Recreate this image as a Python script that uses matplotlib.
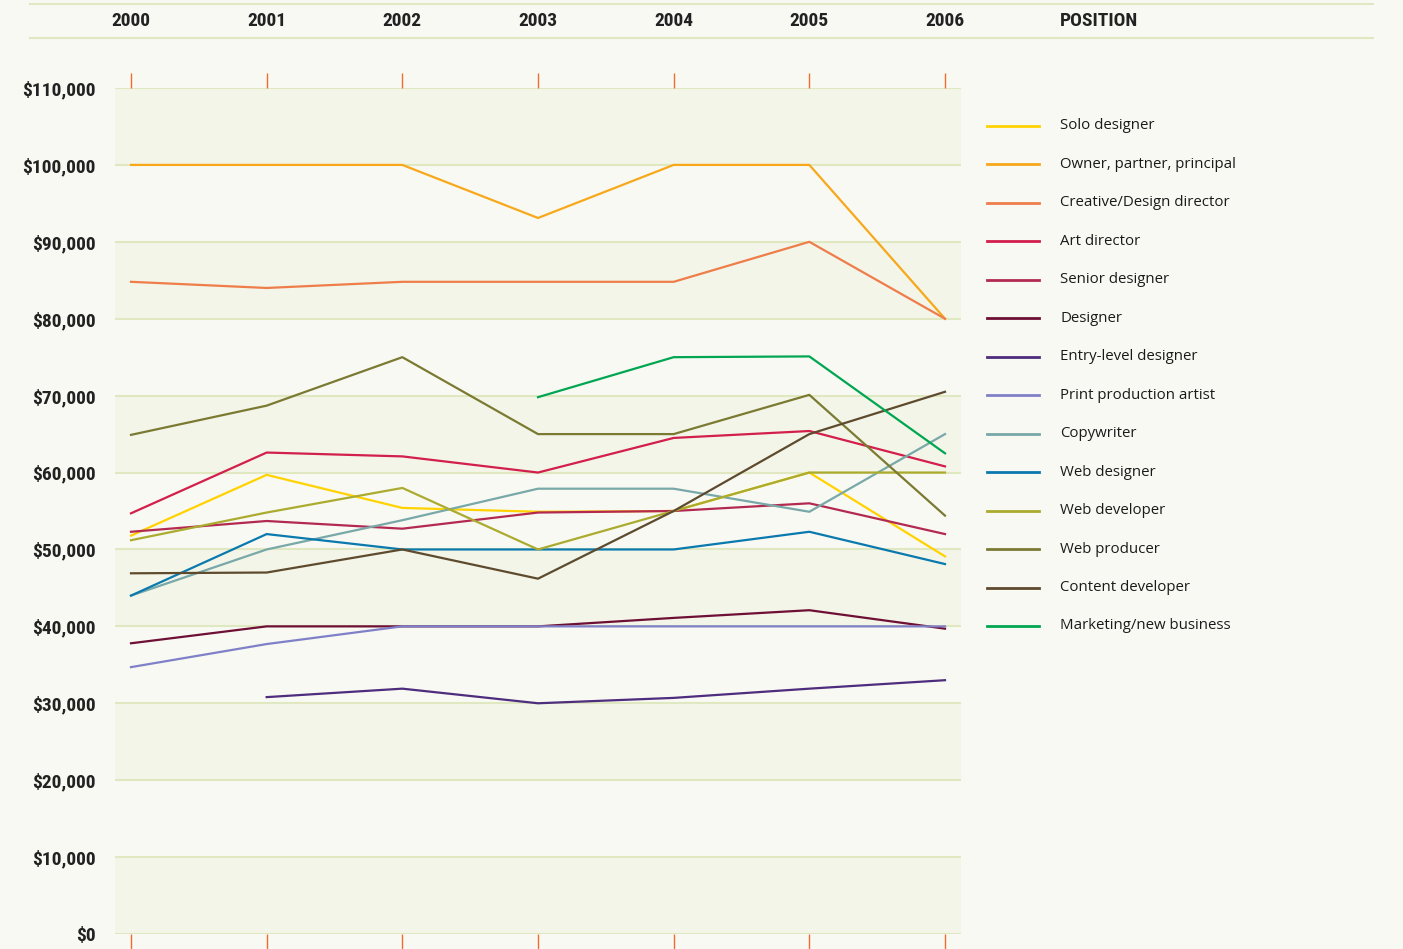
import matplotlib.pyplot as plt
import numpy as np
from matplotlib import font_manager
from matplotlib.lines import Line2D
from matplotlib import transforms

# data
years = [2000, 2001, 2002, 2003, 2004, 2005, 2006]
nan = np.nan
solo_designer = [51800, 59700, 55400, 54900, 55000, 60000, 49100]
owner_partner = [100000, 100000, 100000, 93100, 100000, 100000, 80000]
creative_director = [84800, 84000, 84800, 84800, 84800, 90000, 80000]
art_director = [54700, 62600, 62100, 60000, 64500, 65400, 60800]
senior_designer = [52300, 53700, 52700, 54800, 55000, 56000, 52000]
designer = [37800, 40000, 40000, 40000, 41100, 42100, 39700]
entry_level = [nan, 30800, 31900, 30000, 30700, 31900, 33000]
print_production = [34700, 37700, 40000, 40000, 40000, 40000, 40000]
copywriter = [44000, 50000, 53800, 57900, 57900, 54900, 65000]
web_designer = [44000, 52000, 50000, 50000, 50000, 52300, 48100]
web_developer = [51200, 54800, 58000, 50000, 55000, 60000, 60000]
web_producer = [64900, 68700, 75000, 65000, 65000, 70100, 54400]
content_developer = [46900, 47000, 50000, 46200, 55000, 65000, 70500]
marketing = [nan, nan, nan, 69800, 75000, 75100, 62500]

positions = ['Solo designer', 'Owner, partner, principal', 'Creative/Design director',
             'Art director', 'Senior designer', 'Designer', 'Entry-level designer',
             'Print production artist', 'Copywriter', 'Web designer', 'Web developer',
             'Web producer', 'Content developer', 'Marketing/new business']
series = [solo_designer, owner_partner, creative_director, art_director, senior_designer,
          designer, entry_level, print_production, copywriter, web_designer, web_developer,
          web_producer, content_developer, marketing]
colors = ['#FFD200', '#F7A81B', '#EE7D4A', '#D21F4B', '#B32A50', '#6E0F35', '#4E2C7E',
          '#8080C8', '#78A8A8', '#0A7AAE', '#ABAB2F', '#7B7A32', '#5E4B2E', '#00A651']

y_ticks = list(range(0, 110001, 10000))
y_labels = ['\\${:,}'.format(v) for v in y_ticks]

# fonts
installed = set(f.name for f in font_manager.fontManager.ttflist)
cond = 'DejaVu Sans'
for name in ['Liberation Sans Narrow', 'Roboto Condensed', 'Liberation Sans']:
    if name in installed:
        cond = name
        break
head_font = dict(family=cond, weight='bold', size=14, color='#222222')
leg_font = 'Open Sans' if 'Open Sans' in installed else 'DejaVu Sans'

bg = '#F9F9F3'
band = '#F3F5E8'
gridc = '#E0E8C2'

fig = plt.figure(figsize=(14.03, 9.49), dpi=100, facecolor=bg)
W, H = 1403, 949
ax = fig.add_axes([115 / W, 1 - 934 / H, 846 / W, 846 / H], facecolor=bg)

# alternating bands and grid lines
for lo in range(0, 110000, 20000):
    ax.axhspan(lo, lo + 10000, color=band, zorder=0, lw=0)
for v in y_ticks:
    ax.axhline(v, color=gridc, lw=1.5, zorder=1)

for vals, c in zip(series, colors):
    ax.plot(years, vals, color=c, lw=1.6, zorder=3)

ax.set_xlim(2000 - 16 / 135.67, 2006 + 16 / 135.67)
ax.set_ylim(0, 110000)
for s in ax.spines.values():
    s.set_visible(False)
ax.set_xticks(years)
ax.tick_params(axis='x', top=True, bottom=True, direction='out', length=10.8, width=1,
               color='#F26B2D', labelbottom=False, labeltop=False)
ax.set_yticks(y_ticks)
ax.set_yticklabels(y_labels, fontfamily=cond, fontweight='bold', fontsize=14, color='#222222')
ax.tick_params(axis='y', length=0, pad=14)

# header
trans = transforms.blended_transform_factory(ax.transData, fig.transFigure)
for yr in years:
    ax.text(yr, 1 - 21 / H, str(yr), transform=trans, ha='center', va='center', **head_font)
fig.text(1060 / W, 1 - 21 / H, 'POSITION', ha='left', va='center', **head_font)
for yy in [4, 38]:
    fig.add_artist(Line2D([30 / W, 1373 / W], [1 - yy / H, 1 - yy / H], color=gridc, lw=1.5))

# legend
for i, (name, c) in enumerate(zip(positions, colors)):
    yy = 1 - (126 + i * 38.46) / H
    fig.add_artist(Line2D([987 / W, 1039 / W], [yy, yy], color=c, lw=2))
    fig.text(1060 / W, yy, name, ha='left', va='center', fontfamily=leg_font,
             fontsize=10.8, color='#1a1a1a')

fig.savefig('out.png', dpi=100, facecolor=bg)
